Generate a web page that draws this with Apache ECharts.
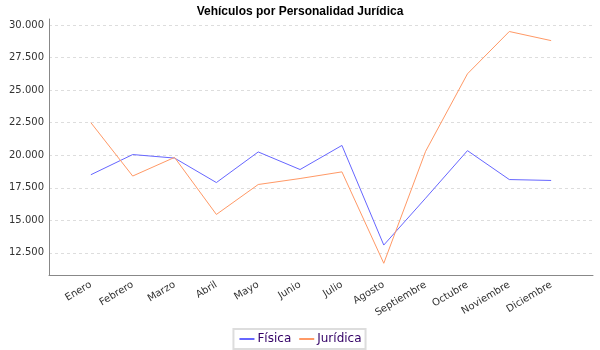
<!DOCTYPE html>
<html>
<head>
<meta charset="utf-8">
<script src="https://cdn.jsdelivr.net/npm/echarts@6/dist/echarts.min.js"></script>
<style>
  html, body { margin: 0; padding: 0; background: #ffffff; }
  #chart { width: 600px; height: 350px; }
</style>
</head>
<body>
<div id="chart"></div>
<script>
// Monthly vehicle registrations, split by the owner's legal personality
const months = ['Enero', 'Febrero', 'Marzo', 'Abril', 'Mayo', 'Junio', 'Julio',
  'Agosto', 'Septiembre', 'Octubre', 'Noviembre', 'Diciembre'];
const fisica = [18500, 20050, 19780, 17900, 20250, 18900, 20750, 13100, 16700, 20350, 18130, 18060];
const juridica = [22500, 18400, 19830, 15450, 17750, 18210, 18720, 11700, 20300, 26250, 29500, 28800];
const yTicks = [12500, 15000, 17500, 20000, 22500, 25000, 27500, 30000];
const yMin = 10800;
const yMax = 30460;

// Spanish thousands separator: 30000 -> "30.000"
function fmtThousands(v) {
  return String(Math.round(v)).replace(/\B(?=(\d{3})+(?!\d))/g, '.');
}

const chart = echarts.init(document.getElementById('chart'), null, { renderer: 'canvas' });

chart.setOption({
  animation: false,
  backgroundColor: '#ffffff',
  title: {
    text: 'Vehículos por Personalidad Jurídica',
    left: 'center',
    top: 1,
    textStyle: {
      fontFamily: 'Liberation Sans',
      fontWeight: 'bold',
      fontSize: 12,
      color: '#000000'
    }
  },
  legend: {
    left: 'center',
    bottom: 1,
    padding: [4, 4, 4, 5],
    itemGap: 7,
    itemWidth: 15,
    itemHeight: 8,
    borderColor: '#dddddd',
    borderWidth: 2,
    // line-only key: hide the marker dot that line series add to the legend
    itemStyle: { color: 'rgba(0,0,0,0)', borderWidth: 0 },
    textStyle: {
      fontFamily: 'DejaVu Sans',
      fontSize: 12,
      color: '#330066',
      padding: [0, 0, 0, -2]
    },
    data: ['Física', 'Jurídica']
  },
  grid: {
    left: 49,
    right: 7,
    top: 19,
    bottom: 75,
    containLabel: false
  },
  xAxis: {
    type: 'category',
    data: months,
    boundaryGap: false,
    min: -1,
    max: 12,
    axisLine: { lineStyle: { color: '#888888', width: 1 } },
    axisTick: { show: false },
    splitLine: { show: false },
    axisLabel: {
      rotate: 31,
      margin: 9,
      interval: 0,
      fontFamily: 'DejaVu Sans',
      fontSize: 10,
      color: '#333333'
    }
  },
  yAxis: {
    type: 'value',
    min: yMin,
    max: yMax,
    axisLine: { show: true, lineStyle: { color: '#888888', width: 1 } },
    axisTick: { show: false, customValues: yTicks },
    axisLabel: {
      customValues: yTicks,
      margin: 5,
      fontFamily: 'DejaVu Sans',
      fontSize: 10,
      color: '#333333',
      formatter: fmtThousands
    },
    splitLine: {
      show: true,
      customValues: yTicks,
      lineStyle: { color: '#dddddd', type: [3, 3], width: 1 }
    }
  },
  series: [
    {
      name: 'Física',
      type: 'line',
      data: fisica,
      symbol: 'none',
      color: '#6666ff',
      lineStyle: { width: 1, color: '#6666ff' }
    },
    {
      name: 'Jurídica',
      type: 'line',
      data: juridica,
      symbol: 'none',
      color: '#ff9966',
      lineStyle: { width: 1, color: '#ff9966' }
    }
  ]
});
</script>
</body>
</html>
